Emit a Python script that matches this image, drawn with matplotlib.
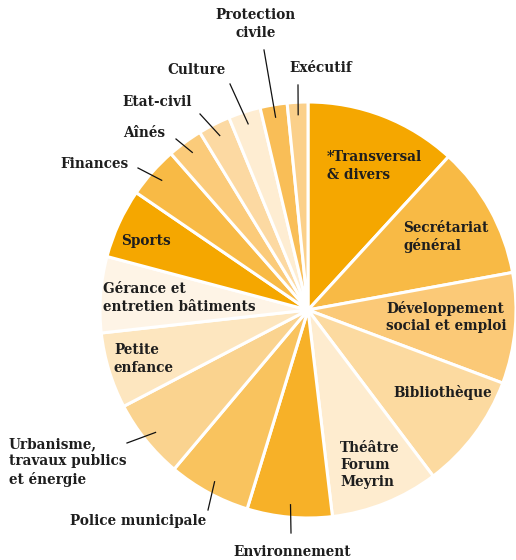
import numpy as np
import matplotlib.pyplot as plt
from matplotlib.patches import Wedge

# budget share per service (clockwise from top)
services = [
    "*Transversal\n& divers", "Secrétariat\ngénéral", "Développement\nsocial et emploi",
    "Bibliothèque", "Théâtre\nForum\nMeyrin", "Environnement", "Police municipale",
    "Urbanisme,\ntravaux publics\net énergie", "Petite\nenfance",
    "Gérance et\nentretien bâtiments", "Sports", "Finances", "Aînés", "Etat-civil",
    "Culture", "Protection\ncivile", "Exécutif",
]
shares = [11.8, 10.3, 8.6, 9.0, 8.4, 6.6, 6.4, 6.2, 5.9, 5.9, 5.4, 4.0, 2.75, 2.5, 2.5, 2.1, 1.6]
colors = [
    "#F5A700", "#F8BA45", "#FBC977", "#FCDAA0", "#FEECCF", "#F7B128", "#F9C35E",
    "#FAD38F", "#FDE6BF", "#FEF4E6", "#F5A700", "#F8BA45", "#FBCB7A", "#FCD9A2",
    "#FEEDD2", "#F9BE57", "#FBD08A",
]

W, H = 516, 560
CX, CY, R = 308, 310, 208  # centre / radius in image pixels

# label layout: (x, y) in image pixels, ha
layout = {
    "*Transversal\n& divers": (327, 166, "left"),
    "Secrétariat\ngénéral": (403, 237, "left"),
    "Développement\nsocial et emploi": (386, 317, "left"),
    "Bibliothèque": (393, 393, "left"),
    "Théâtre\nForum\nMeyrin": (340, 465, "left"),
    "Environnement": (292, 552, "center"),
    "Police municipale": (138, 521, "center"),
    "Urbanisme,\ntravaux publics\net énergie": (9, 462, "left"),
    "Petite\nenfance": (114, 359, "left"),
    "Gérance et\nentretien bâtiments": (103, 298, "left"),
    "Sports": (121, 241, "left"),
    "Finances": (60, 164, "left"),
    "Aînés": (123, 133, "left"),
    "Etat-civil": (122, 102, "left"),
    "Culture": (167, 70, "left"),
    "Protection\ncivile": (256, 24, "center"),
    "Exécutif": (289, 68, "left"),
}
# end of leader line near each outside label (image pixels)
leader_end = {
    "Environnement": (291, 533),
    "Police municipale": (208, 510),
    "Urbanisme,\ntravaux publics\net énergie": (127, 443),
    "Finances": (138, 168),
    "Aînés": (176, 139),
    "Etat-civil": (200, 114),
    "Culture": (230, 84),
    "Protection\ncivile": (264, 50),
    "Exécutif": (298, 85),
}


def img(x, y):
    return x, H - y


fig = plt.figure(figsize=(W / 100, H / 100), dpi=100)
ax = fig.add_axes([0, 0, 1, 1])
ax.set_xlim(0, W)
ax.set_ylim(0, H)
ax.set_aspect("equal")
ax.axis("off")

cx, cy = img(CX, CY)
total = sum(shares)
start = 90.0
font = dict(family="DejaVu Serif", fontweight="bold", fontsize=9.8, color="#1e1e1e")
for name, val, col in zip(services, shares, colors):
    sweep = 360.0 * val / total
    end = start - sweep
    ax.add_patch(Wedge((cx, cy), R, end, start, facecolor=col,
                       edgecolor="white", linewidth=2.2))
    mid = np.deg2rad((start + end) / 2)
    x, y, ha = layout[name]
    tx, ty = img(x, y)
    ax.text(tx, ty, name, ha=ha, va="center", linespacing=1.3, **font)
    if name in leader_end:
        rr = 0.94 * R
        px, py = cx + rr * np.cos(mid), cy + rr * np.sin(mid)
        ex, ey = img(*leader_end[name])
        ax.plot([px, ex], [py, ey], color="#111111", linewidth=0.9)
    start = end

fig.savefig("out.png", dpi=100, facecolor="white")
